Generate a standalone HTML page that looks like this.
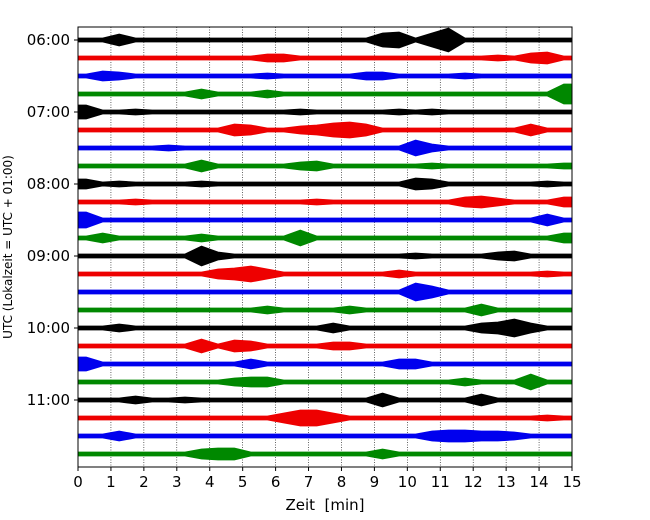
<!DOCTYPE html>
<html><head><meta charset="utf-8"><style>
body{margin:0;background:#fff;font-family:"DejaVu Sans","Liberation Sans",sans-serif}
svg{display:block}
text{font-family:"DejaVu Sans","Liberation Sans",sans-serif}
</style></head><body>
<svg id="chart" width="650" height="520" viewBox="0 0 650 520" xmlns="http://www.w3.org/2000/svg">
<g id="grid"></g>
<g id="traces"></g>
<rect x="78" y="27" width="494" height="440" fill="none" stroke="#000" stroke-width="1"/>
<g id="xticks"></g>
<g id="yticks"></g>
<text x="325" y="510" font-size="15" text-anchor="middle" xml:space="preserve">Zeit  [min]</text>
<text transform="translate(12,247) rotate(-90)" font-size="12" text-anchor="middle">UTC (Lokalzeit = UTC + 01:00)</text>
</svg>
<script>
const xTicks=[0,1,2,3,4,5,6,7,8,9,10,11,12,13,14,15];
const yLabels=["06:00","07:00","08:00","09:00","10:00","11:00"];
const colors=["#000","#e00","#00e","#080"];
const binMinutes=0.5;
const r0=[2,2,6,2,2,2,2,2,2,2,2,2,2,2,2,2,2,2,7,8,2,7,12,2,2,2,2,2,2,2];
const r1=[2,2,2,2,2,2,2,2,2,2,2,4,4,2,2,2,2,2,2,2,2,2,2,2,2,3,2,5,6,2];
const r2=[2,5,4,2,2,2,2,2,2,2,2,3,2,2,2,2,2,4,4,2,2,2,2,3,2,2,2,2,2,2];
const r3=[2,2,2,2,2,2,2,5,2,2,2,4,2,2,2,2,2,2,2,2,2,2,2,2,2,2,2,2,2,10];
const r4=[7,2,2,3,2,2,2,2,2,2,2,2,2,3,2,2,2,2,2,3,2,3,2,2,2,2,2,2,2,2];
const r5=[2,2,2,2,2,2,2,2,2,6,5,2,2,4,5,7,8,6,2,2,2,2,2,2,2,2,2,6,2,2];
const r6=[2,2,2,2,2,3,2,2,2,2,2,2,2,2,2,2,2,2,2,2,8,4,2,2,2,2,2,2,2,2];
const r7=[2,2,2,2,2,2,2,6,2,2,2,2,2,4,5,2,2,2,2,2,2,3,2,2,2,2,2,2,2,3];
const r8=[5,2,3,2,2,2,2,3,2,2,2,2,2,2,2,2,2,2,2,2,6,5,2,2,2,2,2,2,3,2];
const r9=[2,2,2,3,2,2,2,2,2,2,2,2,2,2,3,2,2,2,2,2,2,2,2,5,6,4,2,2,2,5];
const r10=[8,2,2,2,2,2,2,2,2,2,2,2,2,2,2,2,2,2,2,2,2,2,2,2,2,2,2,2,6,2];
const r11=[2,5,2,2,2,2,2,4,2,2,2,2,2,8,2,2,2,2,2,2,2,2,2,2,2,2,2,2,2,5];
const r12=[2,2,2,2,2,2,2,10,4,2,2,2,2,2,2,2,2,2,2,2,3,2,2,2,2,4,5,2,2,2];
const r13=[2,2,2,2,2,2,2,2,5,6,8,5,2,2,2,2,2,2,2,4,2,2,2,2,2,2,2,2,3,2];
const r14=[2,2,2,2,2,2,2,2,2,2,2,2,2,2,2,2,2,2,2,2,9,6,2,2,2,2,2,2,2,2];
const r15=[2,2,2,2,2,2,2,2,2,2,2,4,2,2,2,2,4,2,2,2,2,2,2,2,6,2,2,2,2,2];
const r16=[2,2,4,2,2,2,2,2,2,2,2,2,2,2,2,5,2,2,2,2,2,2,2,2,5,6,9,5,2,2];
const r17=[2,2,2,2,2,2,2,7,2,6,5,2,2,2,2,4,4,2,2,2,2,2,2,2,2,2,2,2,2,2];
const r18=[7,2,2,2,2,2,2,2,2,2,5,2,2,2,2,2,2,2,2,5,5,2,2,2,2,2,2,2,2,2];
const r19=[2,2,2,2,2,2,2,2,2,4,5,5,2,2,2,2,2,2,2,2,2,2,2,4,2,2,2,8,2,2];
const r20=[2,2,2,4,2,2,3,2,2,2,2,2,2,2,2,2,2,2,7,2,2,2,2,2,6,2,2,2,2,2];
const r21=[2,2,2,2,2,2,2,2,2,2,2,2,5,8,8,5,2,2,2,2,2,2,2,2,2,2,2,2,3,2];
const r22=[2,2,5,2,2,2,2,2,2,2,2,2,2,2,2,2,2,2,2,2,2,5,6,6,5,5,4,2,2,2];
const r23=[2,2,2,2,2,2,2,5,6,6,2,2,2,2,2,2,2,2,5,2,2,2,2,2,2,2,2,2,2,2];
const rows=[r0,r1,r2,r3,r4,r5,r6,r7,r8,r9,r10,r11,r12,r13,r14,r15,r16,r17,r18,r19,r20,r21,r22,r23];

const NS="http://www.w3.org/2000/svg";
const X0=78,X1=572,Y0=27,Y1=467,ROW0=40,ROWSTEP=18;
const xs=t=>X0+(t-xTicks[0])/(xTicks[xTicks.length-1]-xTicks[0])*(X1-X0);
const ys=r=>ROW0+r*ROWSTEP;
function mk(tag,attrs,parent){const e=document.createElementNS(NS,tag);for(const k in attrs)e.setAttribute(k,attrs[k]);parent.appendChild(e);return e;}
const grid=document.getElementById('grid'),tr=document.getElementById('traces'),xt=document.getElementById('xticks'),yt=document.getElementById('yticks');
xTicks.forEach(t=>{
  const g=mk('line',{x1:xs(t),x2:xs(t),y1:Y0,y2:Y1,stroke:'#000','stroke-width':0.6,'stroke-dasharray':'1,1.5'},grid);
  
  
  const tk=mk('line',{x1:xs(t),x2:xs(t),y1:Y1,y2:Y1+4,stroke:'#000'},xt);
  
  
  const lb=mk('text',{x:xs(t),y:Y1+20,'font-size':15,'text-anchor':'middle'},xt);
  lb.textContent=t;
  
  
});
yLabels.forEach((l,i)=>{
  const y=ys(i*4);
  const tk=mk('line',{x1:X0-4,x2:X0,y1:y,y2:y,stroke:'#000'},yt);
  
  
  const lb=mk('text',{x:X0-8,y:y+5,'font-size':15,'text-anchor':'end'},yt);
  lb.textContent=l;
  
  
});
rows.forEach((amps,r)=>{
  const yc=ys(r);const top=[],bot=[];
  top.push([xs(0),yc-amps[0]]);bot.push([xs(0),yc+amps[0]]);
  amps.forEach((a,i)=>{const x=xs((i+0.5)*binMinutes);top.push([x,yc-a]);bot.push([x,yc+a]);});
  const last=amps[amps.length-1];
  top.push([xs(amps.length*binMinutes),yc-last]);bot.push([xs(amps.length*binMinutes),yc+last]);
  const pts=top.concat(bot.reverse()).map(p=>p[0].toFixed(1)+','+p[1].toFixed(1)).join(' ');
  const p=mk('polygon',{points:pts,fill:colors[r%4],stroke:colors[r%4],'stroke-width':0.8},tr);
  
  
});
</script>
</body></html>
